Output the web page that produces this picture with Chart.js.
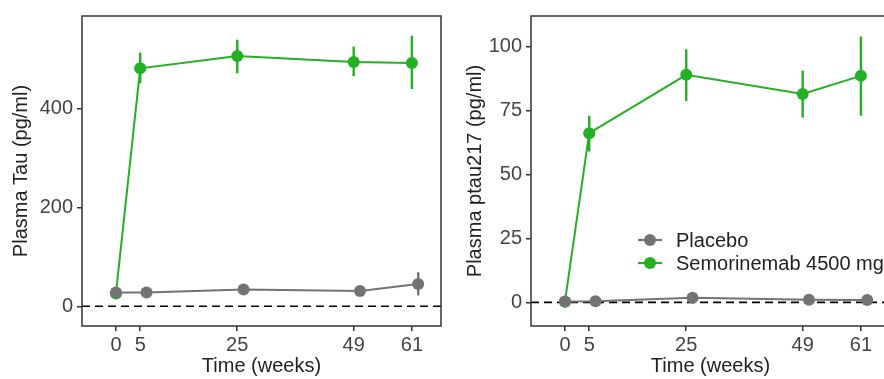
<!DOCTYPE html>
<html>
<head>
<meta charset="utf-8">
<script src="https://cdn.jsdelivr.net/npm/chart.js@4.4.1/dist/chart.umd.min.js"></script>
<style>
  html, body { margin: 0; padding: 0; background: #fff; overflow: hidden; }
  #wrap { position: relative; width: 884px; height: 379px; overflow: hidden; }
  .panel { position: absolute; top: 0; height: 379px; }
  #p-left { left: 0; width: 450px; }
  #p-right { left: 440px; width: 460px; }
</style>
</head>
<body>
<div id="wrap">
  <div class="panel" id="p-left"><canvas id="chart-tau"></canvas></div>
  <div class="panel" id="p-right"><canvas id="chart-ptau"></canvas></div>
</div>
<script>
// ---- data ----
const WEEKS = [0, 5, 25, 49, 61];
const PLACEBO_DODGE = 1.3; // placebo points sit a little to the right

// Plasma Tau (pg/ml)
const TAU_PLACEBO      = [28, 28, 34, 31, 45];
const TAU_PLACEBO_LOW  = [25, 25, 25, 28, 22];
const TAU_PLACEBO_HIGH = [31, 31, 43, 34, 69];
const TAU_SEMO         = [26, 482, 507, 495, 493];
const TAU_SEMO_LOW     = [26, 452, 472, 466, 440];
const TAU_SEMO_HIGH    = [26, 514, 540, 526, 548];
const TAU_TICKS        = [0, 200, 400];

// Plasma ptau217 (pg/ml)
const PTAU_PLACEBO      = [0.4, 0.5, 1.8, 1.1, 1.0];
const PTAU_PLACEBO_LOW  = [0.2, 0.3, 0.5, 0.6, 0.5];
const PTAU_PLACEBO_HIGH = [0.6, 0.7, 3.2, 1.6, 1.5];
const PTAU_SEMO         = [0.3, 66.2, 89, 81.5, 88.6];
const PTAU_SEMO_LOW     = [0.3, 59, 78.7, 72.3, 73];
const PTAU_SEMO_HIGH    = [0.3, 73, 99, 90.6, 104];
const PTAU_TICKS        = [0, 25, 50, 75, 100];

const GROUPS = ["Placebo", "Semorinemab 4500 mg"];
const GRAY = "#737373";
const GREEN = "#24b024";
const FONT = "'Liberation Sans', Arial, sans-serif";
const FSIZE = 20;
const TXT = "#222222";
const TICK_TXT = "#444444";

// build {x,y} points; placebo is dodged to the right except at baseline
function toPoints(vals, dodge) {
  return vals.map((v, i) => ({ x: WEEKS[i] + (WEEKS[i] > 0 ? dodge : 0), y: v }));
}

// ---- plugins ----
// full box round the panel
const boxPlugin = {
  id: "box",
  afterDraw(chart) {
    const a = chart.chartArea, c = chart.ctx;
    c.save();
    c.strokeStyle = "#333";
    c.lineWidth = 1.5;
    c.strokeRect(a.left, a.top, a.right - a.left, a.bottom - a.top);
    c.restore();
  }
};

// dashed reference line at y = 0
const zeroLinePlugin = {
  id: "zeroLine",
  beforeDatasetsDraw(chart) {
    const a = chart.chartArea, c = chart.ctx;
    const y = chart.scales.y.getPixelForValue(0);
    c.save();
    c.strokeStyle = "#000";
    c.lineWidth = 1.7;
    c.setLineDash([8, 5]);
    c.beginPath();
    c.moveTo(a.left, y);
    c.lineTo(a.right, y);
    c.stroke();
    c.restore();
  }
};

// vertical error bars from dataset.errLow / dataset.errHigh
const errorBarPlugin = {
  id: "errorBars",
  beforeDatasetsDraw(chart) {
    const c = chart.ctx, xs = chart.scales.x, ys = chart.scales.y;
    c.save();
    c.beginPath();
    c.rect(chart.chartArea.left, chart.chartArea.top,
           chart.chartArea.right - chart.chartArea.left,
           chart.chartArea.bottom - chart.chartArea.top);
    c.clip();
    chart.data.datasets.forEach(ds => {
      c.strokeStyle = ds.borderColor;
      c.lineWidth = 2.4;
      ds.data.forEach((p, i) => {
        const x = xs.getPixelForValue(p.x);
        c.beginPath();
        c.moveTo(x, ys.getPixelForValue(ds.errLow[i]));
        c.lineTo(x, ys.getPixelForValue(ds.errHigh[i]));
        c.stroke();
      });
    });
    c.restore();
  }
};

// ggplot-style legend: line + dot key, drawn inside the panel
const keyLegendPlugin = {
  id: "keyLegend",
  afterDraw(chart, args, opts) {
    if (!opts.show) return;
    const c = chart.ctx;
    c.save();
    chart.data.datasets.forEach((ds, i) => {
      const y = opts.y + i * opts.rowGap;
      c.strokeStyle = ds.borderColor;
      c.fillStyle = ds.borderColor;
      c.lineWidth = 2.2;
      c.beginPath();
      c.moveTo(opts.x - 12, y);
      c.lineTo(opts.x + 12, y);
      c.stroke();
      c.beginPath();
      c.arc(opts.x, y, 6, 0, Math.PI * 2);
      c.fill();
      c.fillStyle = TXT;
      c.font = FSIZE + "px " + FONT;
      c.textBaseline = "middle";
      c.fillText(ds.label, opts.x + 26, y + 1);
    });
    c.restore();
  }
};

function makeChart(canvasId, cfg) {
  const ds = (label, color, vals, lo, hi, dodge) => ({
    label: label,
    data: toPoints(vals, dodge),
    errLow: lo,
    errHigh: hi,
    borderColor: color,
    backgroundColor: color,
    borderWidth: 2,
    pointRadius: 6,
    pointHoverRadius: 6,
    pointBorderWidth: 0,
    tension: 0
  });

  return new Chart(document.getElementById(canvasId), {
    type: "line",
    data: {
      datasets: [
        ds(GROUPS[0], GRAY, cfg.placebo, cfg.placeboLow, cfg.placeboHigh, PLACEBO_DODGE),
        ds(GROUPS[1], GREEN, cfg.semo, cfg.semoLow, cfg.semoHigh, 0)
      ]
    },
    options: {
      responsive: true,
      maintainAspectRatio: false,
      animation: false,
      layout: { padding: { left: 0, right: cfg.padRight, top: 12, bottom: 0 } },
      plugins: {
        legend: { display: false },
        tooltip: { enabled: false },
        keyLegend: cfg.legend
      },
      scales: {
        x: {
          type: "linear",
          min: -7,
          max: 67,
          afterBuildTicks: s => { s.ticks = WEEKS.map(v => ({ value: v })); },
          afterFit: s => { s.height = 53; },
          border: { display: false },
          grid: { drawOnChartArea: false, tickLength: 5, tickColor: "#333", lineWidth: 1.5 },
          ticks: { color: TICK_TXT, font: { family: FONT, size: FSIZE }, padding: 2, maxRotation: 0 },
          title: { display: true, text: "Time (weeks)", color: TXT,
                   font: { family: FONT, size: FSIZE }, padding: { top: 0, bottom: 1 } }
        },
        y: {
          min: cfg.yMin,
          max: cfg.yMax,
          afterBuildTicks: s => { s.ticks = cfg.yTicks.map(v => ({ value: v })); },
          afterFit: s => { s.width = cfg.yWidth; },
          border: { display: false },
          grid: { drawOnChartArea: false, tickLength: 5, tickColor: "#333", lineWidth: 1.5 },
          ticks: { color: TICK_TXT, font: { family: FONT, size: FSIZE }, padding: 4 },
          title: { display: true, text: cfg.yTitle, color: TXT,
                   font: { family: FONT, size: FSIZE }, padding: { top: cfg.titlePad, bottom: 0 } }
        }
      }
    },
    plugins: [zeroLinePlugin, errorBarPlugin, boxPlugin, keyLegendPlugin]
  });
}

makeChart("chart-tau", {
  placebo: TAU_PLACEBO, placeboLow: TAU_PLACEBO_LOW, placeboHigh: TAU_PLACEBO_HIGH,
  semo: TAU_SEMO, semoLow: TAU_SEMO_LOW, semoHigh: TAU_SEMO_HIGH,
  yMin: -40, yMax: 588, yTicks: TAU_TICKS,
  yTitle: "Plasma Tau (pg/ml)",
  yWidth: 82, padRight: 9, titlePad: 9,
  legend: { show: false }
});

makeChart("chart-ptau", {
  placebo: PTAU_PLACEBO, placeboLow: PTAU_PLACEBO_LOW, placeboHigh: PTAU_PLACEBO_HIGH,
  semo: PTAU_SEMO, semoLow: PTAU_SEMO_LOW, semoHigh: PTAU_SEMO_HIGH,
  yMin: -9.2, yMax: 112, yTicks: PTAU_TICKS,
  yTitle: "Plasma ptau217 (pg/ml)",
  yWidth: 91, padRight: 10, titlePad: 23,
  legend: { show: true, x: 210, y: 240, rowGap: 23 }
});
</script>
</body>
</html>
